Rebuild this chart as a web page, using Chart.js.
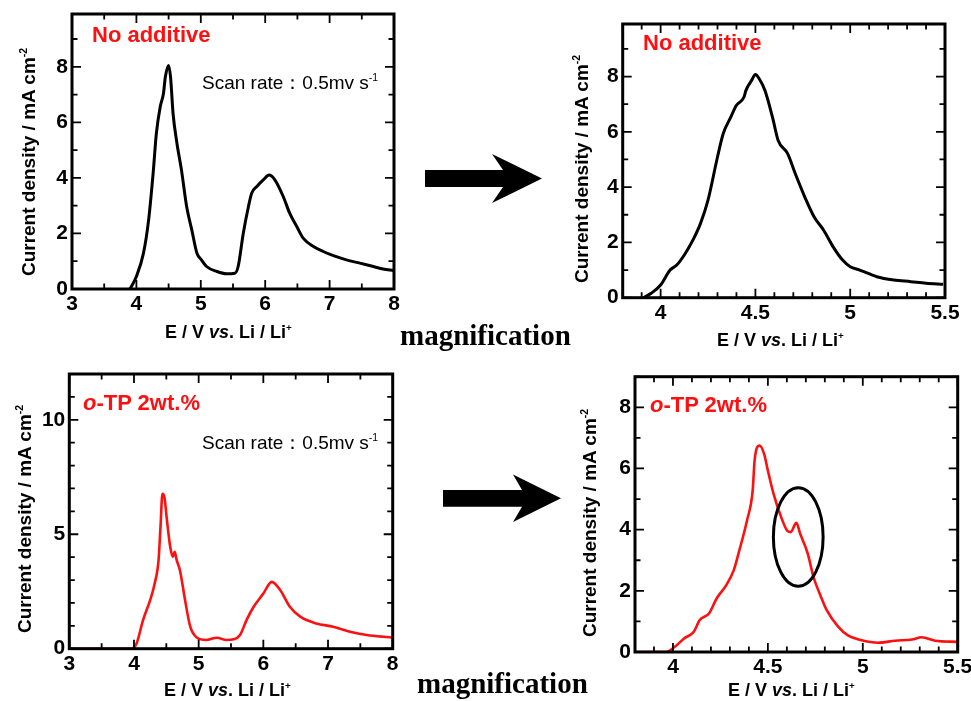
<!DOCTYPE html>
<html>
<head>
<meta charset="utf-8">
<title>Linear sweep voltammetry</title>
<script src="https://cdn.jsdelivr.net/npm/chart.js@4.4.1/dist/chart.umd.min.js"></script>
<style>
  body { margin: 0; background: #fff; }
  #fig { position: relative; width: 971px; height: 701px; overflow: hidden; font-family: "Liberation Sans", Arial, sans-serif; color: #000; }
  canvas.panel { position: absolute; }
  .lbl { position: absolute; white-space: nowrap; line-height: 1; }
  .ytitle { font-weight: bold; font-size: 19px; transform: translate(-50%, -50%) rotate(-90deg); }
  .xtitle { font-weight: bold; font-size: 18px; }
  .tag { color: #ff1010; font-weight: bold; font-size: 22px; }
  .scan { font-size: 19px; }
  .mag { font-family: "Liberation Serif", "Times New Roman", serif; font-weight: bold; font-size: 29px; }
  sup { font-size: 0.55em; vertical-align: 0.75em; line-height: 0; }
  svg { position: absolute; left: 0; top: 0; }
</style>
</head>
<body>
<div id="fig">
  <canvas class="panel" id="c1"></canvas>
  <canvas class="panel" id="c2"></canvas>
  <canvas class="panel" id="c3"></canvas>
  <canvas class="panel" id="c4"></canvas>

  <svg width="971" height="701">
    <polygon points="425,170 503,170 492,154 542,178.5 492,203 503,187 425,187" fill="#000"/>
    <polygon points="443,490 522,490 513,474.5 561,498.3 513,522 522,506.7 443,506.7" fill="#000"/>
  </svg>

  <div class="lbl tag" style="left:92px; top:24px;">No additive</div>
  <div class="lbl scan" style="left:202px; top:72.5px;">Scan rate：0.5mv s<sup>-1</sup></div>
  <div class="lbl tag" style="left:643px; top:32px;">No additive</div>
  <div class="lbl tag" style="left:83px; top:392px;"><i>o</i>-TP 2wt.%</div>
  <div class="lbl scan" style="left:202px; top:432.5px;">Scan rate：0.5mv s<sup>-1</sup></div>
  <div class="lbl tag" style="left:650px; top:394px;"><i>o</i>-TP 2wt.%</div>

  <div class="lbl ytitle" style="left:27.5px; top:161.7px;">Current density / mA cm<sup>-2</sup></div>
  <div class="lbl ytitle" style="left:581px; top:169px;">Current density / mA cm<sup>-2</sup></div>
  <div class="lbl ytitle" style="left:23.5px; top:519px;">Current density / mA cm<sup>-2</sup></div>
  <div class="lbl ytitle" style="left:589px; top:522.5px;">Current density / mA cm<sup>-2</sup></div>

  <div class="lbl xtitle" style="left:165px; top:322.7px;">E / V <i>vs</i>. Li / Li<sup>+</sup></div>
  <div class="lbl xtitle" style="left:717px; top:330.7px;">E / V <i>vs</i>. Li / Li<sup>+</sup></div>
  <div class="lbl xtitle" style="left:164px; top:681px;">E / V <i>vs</i>. Li / Li<sup>+</sup></div>
  <div class="lbl xtitle" style="left:728px; top:680.7px;">E / V <i>vs</i>. Li / Li<sup>+</sup></div>

  <div class="lbl mag" style="left:400px; top:320.7px;">magnification</div>
  <div class="lbl mag" style="left:417px; top:668.7px;">magnification</div>
</div>

<script>
// potential (V vs Li/Li+) and current density (mA cm-2), electrolyte without additive, 3-8 V sweep
const baseFullV = [3.90, 4.00, 4.11, 4.19, 4.26, 4.31, 4.37, 4.42, 4.45, 4.50, 4.53, 4.57, 4.63, 4.70, 4.78, 4.86, 4.94, 5.01, 5.09, 5.25, 5.40, 5.53, 5.58, 5.66, 5.74, 5.79, 5.87, 5.97, 6.06, 6.15, 6.28, 6.38, 6.49, 6.59, 6.75, 6.90, 7.06, 7.26, 7.47, 7.68, 7.83, 7.99]
const baseFullJ = [0.00, 0.45, 1.29, 2.49, 4.17, 5.60, 6.56, 7.04, 7.64, 8.05, 7.64, 6.30, 5.24, 4.28, 2.97, 2.13, 1.29, 1.05, 0.81, 0.63, 0.55, 0.57, 0.81, 2.01, 2.97, 3.45, 3.69, 3.93, 4.10, 3.93, 3.33, 2.73, 2.25, 1.83, 1.53, 1.35, 1.20, 1.05, 0.93, 0.81, 0.72, 0.67]

// same electrolyte, 3.8-5.5 V detail
const baseZoomV = [3.91, 3.95, 4.00, 4.05, 4.085, 4.13, 4.17, 4.21, 4.25, 4.30, 4.33, 4.37, 4.40, 4.44, 4.45, 4.48, 4.50, 4.52, 4.55, 4.59, 4.62, 4.67, 4.71, 4.76, 4.81, 4.86, 4.91, 4.96, 5.00, 5.05, 5.14, 5.23, 5.32, 5.40, 5.49]
const baseZoomJ = [0.00, 0.16, 0.46, 1.00, 1.18, 1.60, 2.08, 2.68, 3.53, 5.09, 5.93, 6.53, 6.96, 7.26, 7.50, 7.86, 8.07, 7.92, 7.50, 6.53, 5.69, 5.21, 4.49, 3.65, 2.92, 2.44, 1.84, 1.36, 1.12, 1.00, 0.76, 0.64, 0.58, 0.52, 0.49]

// electrolyte with 2 wt.% o-terphenyl, 3-8 V sweep
const otpFullV = [3.00, 3.50, 3.96, 4.04, 4.14, 4.25, 4.32, 4.38, 4.41, 4.44, 4.47, 4.51, 4.56, 4.60, 4.63, 4.66, 4.71, 4.79, 4.87, 4.97, 5.12, 5.28, 5.43, 5.54, 5.64, 5.74, 5.85, 6.00, 6.13, 6.26, 6.41, 6.57, 6.82, 7.08, 7.34, 7.60, 7.86, 8.00]
const otpFullJ = [0.00, 0.00, 0.00, 0.23, 1.25, 2.12, 2.85, 3.87, 5.32, 6.77, 6.63, 5.61, 4.45, 4.01, 4.23, 3.87, 3.43, 2.12, 0.96, 0.49, 0.38, 0.48, 0.38, 0.41, 0.60, 1.25, 1.83, 2.41, 2.92, 2.56, 1.83, 1.40, 1.10, 0.96, 0.74, 0.60, 0.52, 0.49]

// same electrolyte, 3.8-5.5 V detail
const otpZoomV = [3.80, 3.965, 4.01, 4.06, 4.11, 4.14, 4.19, 4.23, 4.28, 4.32, 4.35, 4.39, 4.42, 4.43, 4.455, 4.48, 4.50, 4.53, 4.57, 4.60, 4.62, 4.65, 4.67, 4.71, 4.74, 4.78, 4.81, 4.87, 4.92, 4.99, 5.08, 5.17, 5.26, 5.31, 5.38, 5.50]
const otpZoomJ = [0.00, 0.00, 0.17, 0.45, 0.66, 1.04, 1.26, 1.75, 2.18, 2.67, 3.33, 4.30, 5.28, 6.26, 6.75, 6.48, 5.93, 5.17, 4.41, 3.98, 3.92, 4.22, 3.87, 3.22, 2.46, 1.80, 1.37, 0.83, 0.55, 0.39, 0.30, 0.37, 0.41, 0.48, 0.37, 0.33]

// labelled ticks
const xTicksFull = [3, 4, 5, 6, 7, 8]
const xTicksZoom = [4, 4.5, 5, 5.5]
const yTicksEight = [0, 2, 4, 6, 8]
const yTicksTen = [0, 5, 10]

// shoulder marked with a ring in the o-TP detail plot
const shoulderMark = { v: 4.66, j: 3.76, dv: 0.131, dj: 1.61 }

const black = "#000000"
const red = "#ff1010"
const tickFont = { family: "'Liberation Sans', Arial, sans-serif", size: 21, weight: "bold" }

// box frame with inward ticks on all four sides
const frameTicks = {
  id: "frameTicks",
  afterDatasetsDraw(chart, args, opts) {
    const { ctx, chartArea: a, scales: { x, y } } = chart
    ctx.save()
    ctx.strokeStyle = black
    ctx.lineWidth = 1.8
    const marks = (scale, step, majors) => {
      const out = []
      const n0 = Math.ceil(scale.min / step - 1e-6)
      const n1 = Math.floor(scale.max / step + 1e-6)
      for (let n = n0; n <= n1; n++) {
        const v = n * step
        const major = majors.some((m) => Math.abs(m - v) < 1e-6)
        out.push({ p: scale.getPixelForValue(v), len: major ? 9 : 5.5 })
      }
      return out
    }
    ctx.beginPath()
    marks(x, opts.xMinor, opts.xMajor).forEach(({ p, len }) => {
      ctx.moveTo(p, a.bottom); ctx.lineTo(p, a.bottom - len)
      ctx.moveTo(p, a.top); ctx.lineTo(p, a.top + len)
    })
    marks(y, opts.yMinor, opts.yMajor).forEach(({ p, len }) => {
      ctx.moveTo(a.left, p); ctx.lineTo(a.left + len, p)
      ctx.moveTo(a.right, p); ctx.lineTo(a.right - len, p)
    })
    ctx.stroke()
    ctx.lineWidth = 3
    ctx.strokeRect(a.left, a.top, a.right - a.left, a.bottom - a.top)
    ctx.restore()
  },
}

// ring around the shoulder near 4.65 V
const ring = {
  id: "ring",
  afterDatasetsDraw(chart) {
    const { ctx, scales: { x, y } } = chart
    const cx = x.getPixelForValue(shoulderMark.v)
    const cy = y.getPixelForValue(shoulderMark.j)
    const rx = Math.abs(x.getPixelForValue(shoulderMark.v + shoulderMark.dv) - cx)
    const ry = Math.abs(y.getPixelForValue(shoulderMark.j + shoulderMark.dj) - cy)
    ctx.save()
    ctx.strokeStyle = black
    ctx.lineWidth = 3
    ctx.beginPath()
    ctx.ellipse(cx, cy, rx, ry, 0, 0, Math.PI * 2)
    ctx.stroke()
    ctx.restore()
  },
}

function makePanel(id, p) {
  const canvas = document.getElementById(id)
  canvas.width = p.box[2]
  canvas.height = p.box[3]
  canvas.style.left = p.box[0] + "px"
  canvas.style.top = p.box[1] + "px"
  const [L, T, R, B] = p.area
  const yWidth = L - p.box[0]
  const xHeight = p.box[1] + p.box[3] - B

  const noPad = (s) => { s.paddingTop = 0; s.paddingBottom = 0; s.paddingLeft = 0; s.paddingRight = 0 }

  return new Chart(canvas, {
    type: "line",
    data: {
      datasets: [{
        data: p.v.map((v, i) => ({ x: v, y: p.j[i] })),
        borderColor: p.color,
        borderWidth: p.width,
        pointRadius: 0,
        fill: false,
        cubicInterpolationMode: "monotone",
      }],
    },
    options: {
      responsive: false,
      animation: false,
      events: [],
      layout: { padding: { left: 0, top: T - p.box[1], right: p.box[0] + p.box[2] - R, bottom: 0 } },
      plugins: { legend: { display: false }, tooltip: { enabled: false }, frameTicks: p.frame },
      scales: {
        x: {
          type: "linear",
          min: p.xRange[0],
          max: p.xRange[1],
          grid: { display: false, drawTicks: false },
          border: { display: false },
          ticks: { font: tickFont, color: black, padding: 3, maxRotation: 0, autoSkip: false, callback: (v) => String(v) },
          afterBuildTicks: (s) => { s.ticks = p.frame.xMajor.map((v) => ({ value: v })) },
          afterFit: (s) => { s.height = xHeight; noPad(s) },
        },
        y: {
          min: 0,
          max: p.yMax,
          grid: { display: false, drawTicks: false },
          border: { display: false },
          ticks: { font: tickFont, color: black, padding: 4, autoSkip: false, callback: (v) => String(v) },
          afterBuildTicks: (s) => { s.ticks = p.frame.yMajor.map((v) => ({ value: v })) },
          afterFit: (s) => { s.width = yWidth; noPad(s) },
        },
      },
    },
    plugins: p.extra ? [frameTicks, p.extra] : [frameTicks],
  })
}

makePanel("c1", {
  box: [0, 0, 420, 325], area: [72, 14, 394, 289],
  v: baseFullV, j: baseFullJ, color: black, width: 3,
  xRange: [3, 8], yMax: 9.9,
  frame: { xMajor: xTicksFull, xMinor: 0.5, yMajor: yTicksEight, yMinor: 1 },
})

makePanel("c2", {
  box: [560, 0, 411, 330], area: [622.7, 24, 945, 297.7],
  v: baseZoomV, j: baseZoomJ, color: black, width: 3,
  xRange: [3.8, 5.5], yMax: 9.9,
  frame: { xMajor: xTicksZoom, xMinor: 0.1, yMajor: yTicksEight, yMinor: 1 },
})

makePanel("c3", {
  box: [0, 360, 415, 330], area: [69.3, 374, 392.7, 648.7],
  v: otpFullV, j: otpFullJ, color: red, width: 2.6,
  xRange: [3, 8], yMax: 12,
  frame: { xMajor: xTicksFull, xMinor: 0.5, yMajor: yTicksTen, yMinor: 1 },
})

makePanel("c4", {
  box: [560, 360, 411, 330], area: [635, 376.7, 957.7, 652],
  v: otpZoomV, j: otpZoomJ, color: red, width: 2.6,
  xRange: [3.8, 5.5], yMax: 9,
  frame: { xMajor: xTicksZoom, xMinor: 0.1, yMajor: yTicksEight, yMinor: 1 },
  extra: ring,
})
</script>
</body>
</html>
